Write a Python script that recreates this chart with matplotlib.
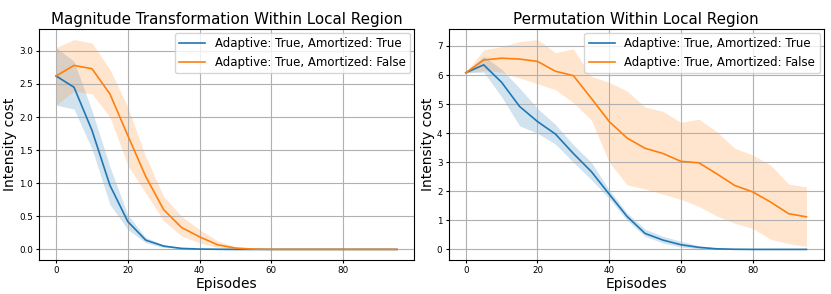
import numpy as np
import matplotlib.pyplot as plt

# ── Data ───────────────────────────────────────────────────────
episodes = list(range(0, 100, 5))

labels = ["Adaptive: True, Amortized: True", "Adaptive: True, Amortized: False"]
titles = ["Magnitude Transformation Within Local Region",
          "Permutation Within Local Region"]

# Magnitude transformation
mag_amort_mean = [2.62, 2.45, 1.80, 0.97, 0.42, 0.14, 0.05, 0.015, 0.005, 0.002,
                  0, 0, 0, 0, 0, 0, 0, 0, 0, 0]
mag_amort_lo = [2.18, 2.12, 1.52, 0.68, 0.30, 0.10, 0.03, 0.008, 0.002, 0,
                0, 0, 0, 0, 0, 0, 0, 0, 0, 0]
mag_amort_hi = [3.05, 2.84, 2.10, 1.25, 0.52, 0.18, 0.07, 0.025, 0.008, 0.003,
                0, 0, 0, 0, 0, 0, 0, 0, 0, 0]
mag_noam_mean = [2.62, 2.78, 2.73, 2.35, 1.72, 1.10, 0.60, 0.33, 0.19, 0.07,
                 0.02, 0.005, 0, 0, 0, 0, 0, 0, 0, 0]
mag_noam_lo = [2.18, 2.39, 2.35, 2.00, 1.27, 0.85, 0.43, 0.20, 0.10, 0.03,
               0.005, 0, 0, 0, 0, 0, 0, 0, 0, 0]
mag_noam_hi = [3.05, 3.17, 3.12, 2.72, 2.15, 1.40, 0.80, 0.50, 0.30, 0.13,
               0.04, 0.01, 0, 0, 0, 0, 0, 0, 0, 0]

# Permutation
perm_amort_mean = [6.08, 6.35, 5.75, 4.92, 4.40, 3.97, 3.30, 2.68, 1.90, 1.13,
                   0.55, 0.32, 0.16, 0.07, 0.02, 0.005, 0, 0, 0, 0]
perm_amort_lo = [6.08, 6.10, 5.25, 4.25, 4.00, 3.62, 3.00, 2.40, 1.75, 1.00,
                 0.45, 0.22, 0.08, 0.02, 0, 0, 0, 0, 0, 0]
perm_amort_hi = [6.08, 6.65, 6.20, 5.55, 4.85, 4.30, 3.60, 3.00, 2.05, 1.25,
                 0.70, 0.45, 0.28, 0.13, 0.04, 0.01, 0, 0, 0, 0]
perm_noam_mean = [6.08, 6.52, 6.58, 6.55, 6.47, 6.13, 5.98, 5.20, 4.40, 3.83,
                  3.48, 3.30, 3.03, 2.98, 2.60, 2.20, 1.98, 1.63, 1.23, 1.12]
perm_noam_lo = [6.08, 6.15, 6.10, 5.90, 5.70, 5.50, 5.05, 4.45, 3.00, 2.22,
                2.08, 1.90, 1.72, 1.48, 1.15, 0.90, 0.72, 0.35, 0.20, 0.10]
perm_noam_hi = [6.08, 6.87, 6.98, 7.15, 7.22, 6.77, 6.90, 5.95, 5.75, 5.45,
                4.90, 4.75, 4.37, 4.48, 4.05, 3.48, 3.25, 2.90, 2.25, 2.15]

panels = [
    [(mag_amort_mean, mag_amort_lo, mag_amort_hi),
     (mag_noam_mean, mag_noam_lo, mag_noam_hi)],
    [(perm_amort_mean, perm_amort_lo, perm_amort_hi),
     (perm_noam_mean, perm_noam_lo, perm_noam_hi)],
]
colors = ["tab:blue", "tab:orange"]

# ── Plot ───────────────────────────────────────────────────────
fig, axes = plt.subplots(1, 2, figsize=(8.31, 2.94), dpi=100)

for ax, title, series in zip(axes, titles, panels):
    for (mean, lo, hi), label, c in zip(series, labels, colors):
        ax.plot(episodes, mean, color=c, lw=1.2, label=label)
        ax.fill_between(episodes, lo, hi, color=c, alpha=0.2, lw=0)
    ax.set_title(title, fontsize=10.9, pad=4)
    ax.set_xlabel("Episodes", fontsize=10, labelpad=1)
    ax.set_ylabel("Intensity cost", fontsize=10, labelpad=1.5)
    ax.tick_params(labelsize=6.3, length=2.5, pad=2)
    ax.grid(True)
    ax.legend(fontsize=8.5, loc="upper right", borderaxespad=0.3,
              handlelength=2.2, labelspacing=0.45)

fig.subplots_adjust(left=0.047, right=0.991, top=0.901, bottom=0.116, wspace=0.093)
plt.savefig("out.png", dpi=100)
